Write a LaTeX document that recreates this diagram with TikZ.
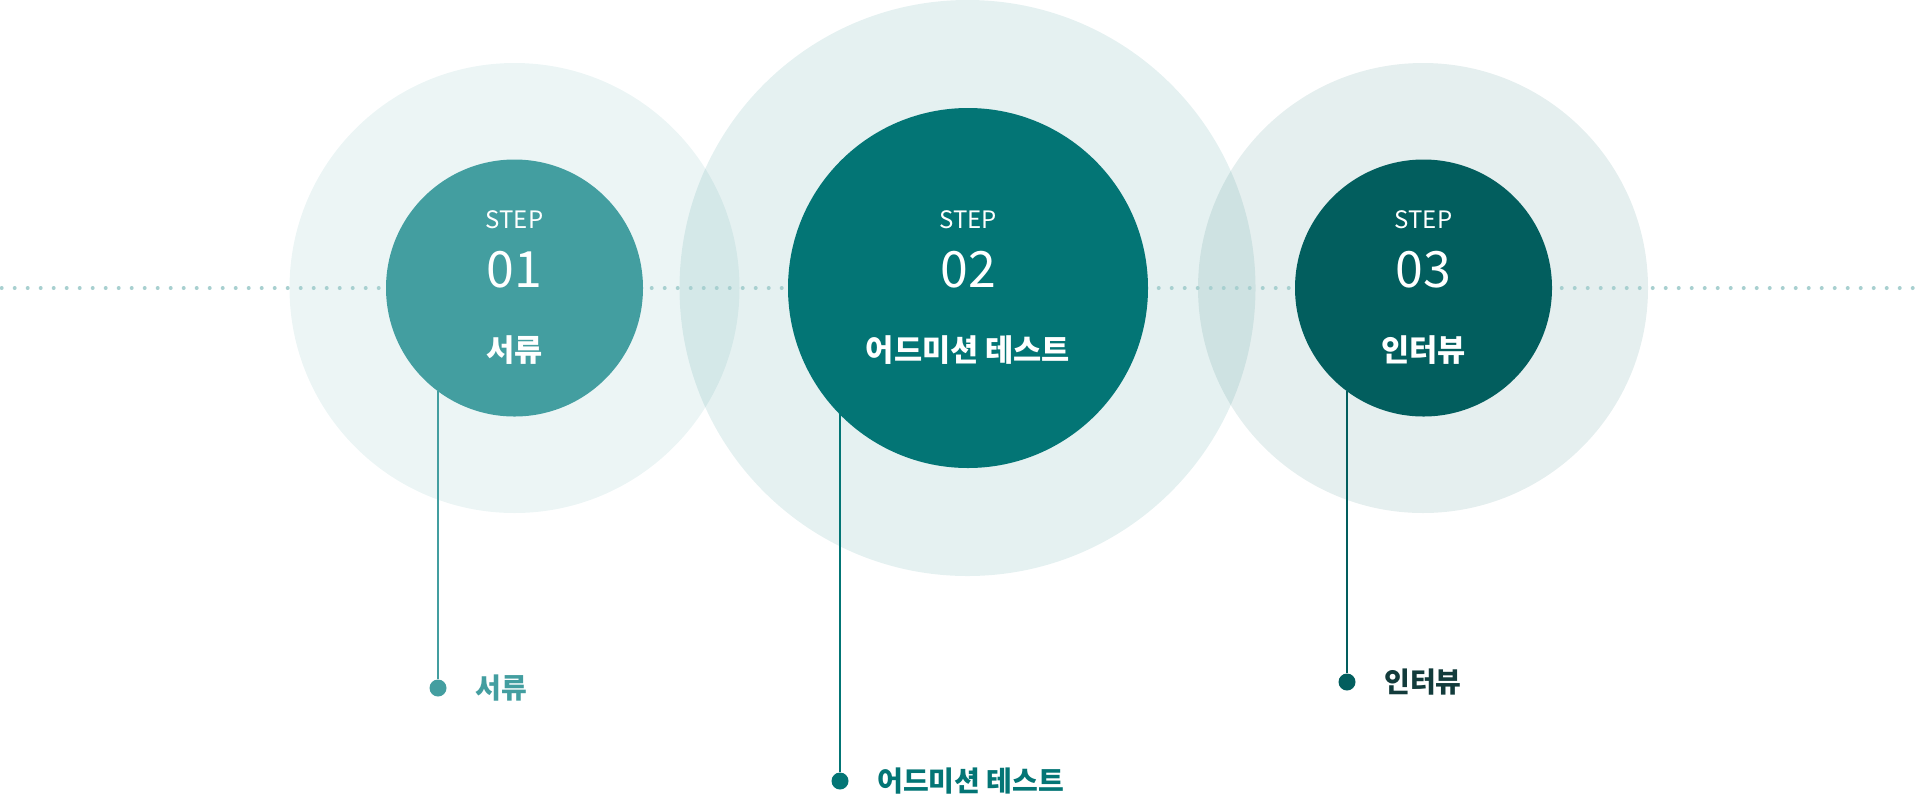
\documentclass[tikz,border=0pt]{standalone}
\usepackage{fontspec}
\setmainfont{Noto Sans CJK KR}
\usepackage{tikz}
\usetikzlibrary{positioning, calc}
\definecolor{tuerkis}{HTML}{439EA0}
\definecolor{petrol}{HTML}{037575}
\definecolor{tiefpetrol}{HTML}{025E5E}
\definecolor{punkt}{HTML}{A8D0D0}
\definecolor{schrift}{HTML}{123B3B}

\begin{document}
\begin{tikzpicture}[
        x=0.5pt, y=-0.5pt,
        halo/.style={circle, inner sep=0pt, fill opacity=0.1},
        stufe/.style={circle, inner sep=0pt},
        schritt/.style={text=white, anchor=base, inner sep=0pt, font=\fontsize{12}{14}\selectfont},
        nummer/.style={text=white, anchor=base, inner sep=0pt, font=\fontsize{25}{30}\selectfont},
        titel/.style={text=white, anchor=base, inner sep=0pt, font=\fontsize{15.3}{18}\selectfont\bfseries},
        punktknoten/.style={circle, inner sep=0pt, minimum size=8.5pt},
        beschriftung/.style={anchor=west, inner sep=0pt, font=\fontsize{14}{16}\selectfont\bfseries},
      ]
      \useasboundingbox (0,0) rectangle (1920,799);

      % Hintergrundkreise (blass)
      \foreach \nr/\x/\R/\farbe in {1/514.5/225/tuerkis, 2/967.5/288/petrol, 3/1423/225/tiefpetrol} {
        \node[halo, fill=\farbe, minimum size=\R pt] (h\nr) at (\x, 288) {};
      }

      % Punktlinie
      \foreach \i in {0,...,147}
        \fill[punkt] (1.7+13*\i, 288) circle (2);

      % Stufen
      \foreach \nr/\x/\r/\farbe/\titel in {1/514.5/128.5/tuerkis/서류,
          2/968/180/petrol/어드미션 테스트, 3/1423.5/128.5/tiefpetrol/인터뷰} {
        \node[stufe, fill=\farbe, minimum size=\r pt] (c\nr) at (\x, 288) {};
        \node[schritt] (s\nr) at (\x, 228) {STEP};
        \node[nummer] (n\nr) at (\x, 287) {0\nr};
        \node[titel] (t\nr) at (\x, 361) {\titel};
      }

      % Punkte unten + Beschriftung
      \node[punktknoten, fill=tuerkis] (p1) at (438, 688) {};
      \node[punktknoten, fill=petrol] (p2) at (840, 781) {};
      \node[punktknoten, fill=tiefpetrol] (p3) at (1347, 682) {};
      \node[beschriftung, text=tuerkis, right=14pt of p1] (l1) {서류};
      \node[beschriftung, text=petrol, right=14pt of p2] (l2) {어드미션 테스트};
      \node[beschriftung, text=schrift, right=14pt of p3] (l3) {인터뷰};

      % Verbindungen
      \draw[tuerkis, line width=1pt] (p1) -- (p1 |- c1.233.5);
      \draw[petrol, line width=1pt] (p2) -- (p2 |- c2.224.7);
      \draw[tiefpetrol, line width=1pt] (p3) -- (p3 |- c3.233.5);
    \end{tikzpicture}
\end{document}
